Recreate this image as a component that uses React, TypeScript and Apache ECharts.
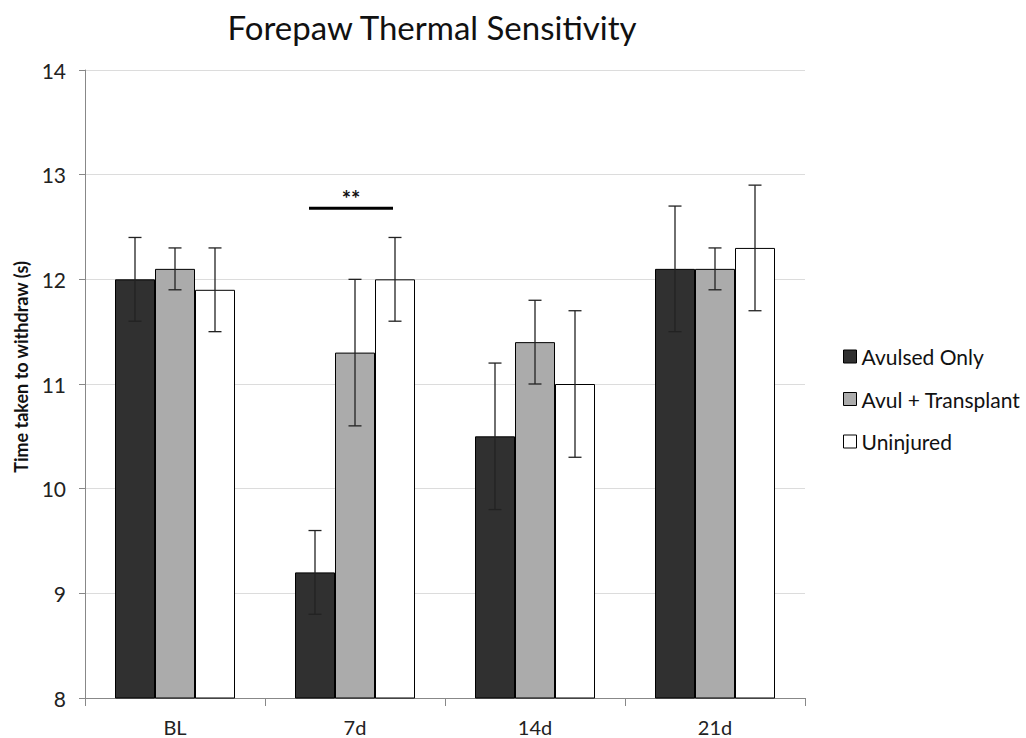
import React, { useEffect, useRef } from "react";
import * as echarts from "echarts";

const categories = ["BL", "7d", "14d", "21d"];
const seriesNames = ["Avulsed Only", "Avul + Transplant", "Uninjured"];
const avulsedOnly = [12.0, 9.2, 10.5, 12.1];
const avulTransplant = [12.1, 11.3, 11.4, 12.1];
const uninjured = [11.9, 12.0, 11.0, 12.3];
const avulsedOnlyErr = [0.4, 0.4, 0.7, 0.6];
const avulTransplantErr = [0.2, 0.7, 0.4, 0.2];
const uninjuredErr = [0.4, 0.4, 0.7, 0.6];
const yTicks = { min: 8, max: 14, interval: 1 };
const sigCategory = 1;
const sigLevel = 12.68;
const sigLabel = "**";

const FONT = "Lato, 'Open Sans', sans-serif";
const colors = ["#303030", "#ababab", "#ffffff"];

export default function App() {
  const ref = useRef<HTMLDivElement>(null);
  useEffect(() => {
    if (!ref.current) return;
    const chart = echarts.init(ref.current, undefined, { renderer: "svg" });
    const values = [avulsedOnly, avulTransplant, uninjured];
    const errs = [avulsedOnlyErr, avulTransplantErr, uninjuredErr];
    const barW = 40;
    const offsets = [-barW, 0, barW];

    const barSeries = values.map((v, i) => ({
      name: seriesNames[i],
      type: "bar",
      data: v,
      barWidth: barW,
      barGap: "0%",
      itemStyle: { color: colors[i], borderColor: "#000", borderWidth: 1 },
      z: 2,
    }));

    const errSeries = values.map((v, i) => ({
      type: "custom",
      name: seriesNames[i] + " err",
      data: v.map((val, k) => [k, val, errs[i][k]]),
      z: 5,
      silent: true,
      renderItem: (params: any, api: any) => {
        const k = api.value(0);
        const val = api.value(1);
        const e = api.value(2);
        const c = api.coord([k, val]);
        const x = c[0] + offsets[i];
        const yTop = api.coord([k, val + e])[1];
        const yBot = api.coord([k, val - e])[1];
        const cap = 6.5;
        const st = { stroke: "#222", lineWidth: 1.3 };
        return {
          type: "group",
          children: [
            { type: "line", shape: { x1: x, y1: yTop, x2: x, y2: yBot }, style: st },
            { type: "line", shape: { x1: x - cap, y1: yTop, x2: x + cap, y2: yTop }, style: st },
            { type: "line", shape: { x1: x - cap, y1: yBot, x2: x + cap, y2: yBot }, style: st },
          ],
        };
      },
    }));

    const sigSeries = {
      type: "custom",
      name: "sig",
      data: [[sigCategory, sigLevel]],
      z: 6,
      silent: true,
      renderItem: (params: any, api: any) => {
        const c = api.coord([api.value(0), api.value(1)]);
        return {
          type: "group",
          children: [
            {
              type: "line",
              shape: { x1: c[0] - 46, y1: c[1], x2: c[0] + 38, y2: c[1] },
              style: { stroke: "#000", lineWidth: 3 },
            },
            {
              type: "text",
              x: c[0] - 4,
              y: c[1] + 1,
              style: {
                text: sigLabel,
                fill: "#111",
                font: `bold 22px ${FONT}`,
                textAlign: "center",
                textVerticalAlign: "bottom",
              },
            },
          ],
        };
      },
    };

    chart.setOption({
      animation: false,
      backgroundColor: "#fff",
      graphic: [
        {
          type: "text",
          x: 432,
          y: 27,
          style: {
            text: "Forepaw Thermal Sensitivity",
            fill: "#111",
            font: `33px ${FONT}`,
            textAlign: "center",
            textVerticalAlign: "middle",
          },
        },
        {
          type: "text",
          x: 21,
          y: 367,
          rotation: Math.PI / 2,
          style: {
            text: "Time taken to withdraw (s)",
            fill: "#111",
            font: `bold 18px ${FONT}`,
            textAlign: "center",
            textVerticalAlign: "middle",
          },
        },
      ],
      legend: {
        orient: "vertical",
        left: 838,
        top: 341,
        itemWidth: 13,
        itemHeight: 13,
        itemGap: 21.5,
        icon: "rect",
        data: seriesNames.map((n, i) => ({
          name: n,
          itemStyle: { color: colors[i], borderColor: "#000", borderWidth: 1 },
        })),
        textStyle: { fontFamily: FONT, fontSize: 21, color: "#111" },
      },
      grid: { left: 85, right: 221, top: 70, bottom: 40, outerBoundsMode: "none" },
      xAxis: {
        type: "category",
        data: categories,
        axisLine: { lineStyle: { color: "#888", width: 1 } },
        axisTick: { show: true, length: 8, lineStyle: { color: "#888" } },
        axisLabel: { fontFamily: FONT, fontSize: 20, color: "#222", margin: 19 },
        splitLine: { show: false },
      },
      yAxis: {
        type: "value",
        min: yTicks.min,
        max: yTicks.max,
        interval: yTicks.interval,
        axisLine: { show: true, lineStyle: { color: "#888", width: 1 } },
        axisTick: { show: true, length: 6, inside: false, lineStyle: { color: "#888" } },
        axisLabel: { fontFamily: FONT, fontSize: 21, color: "#222", margin: 19 },
        splitLine: { show: true, lineStyle: { color: "#dcdcdc", width: 1 } },
      },
      series: [...barSeries, ...errSeries, sigSeries],
    });
    return () => chart.dispose();
  }, []);
  return (
    <div
      ref={ref}
      style={{ position: "fixed", left: 0, top: 0, width: 1026, height: 738 }}
    />
  );
}
